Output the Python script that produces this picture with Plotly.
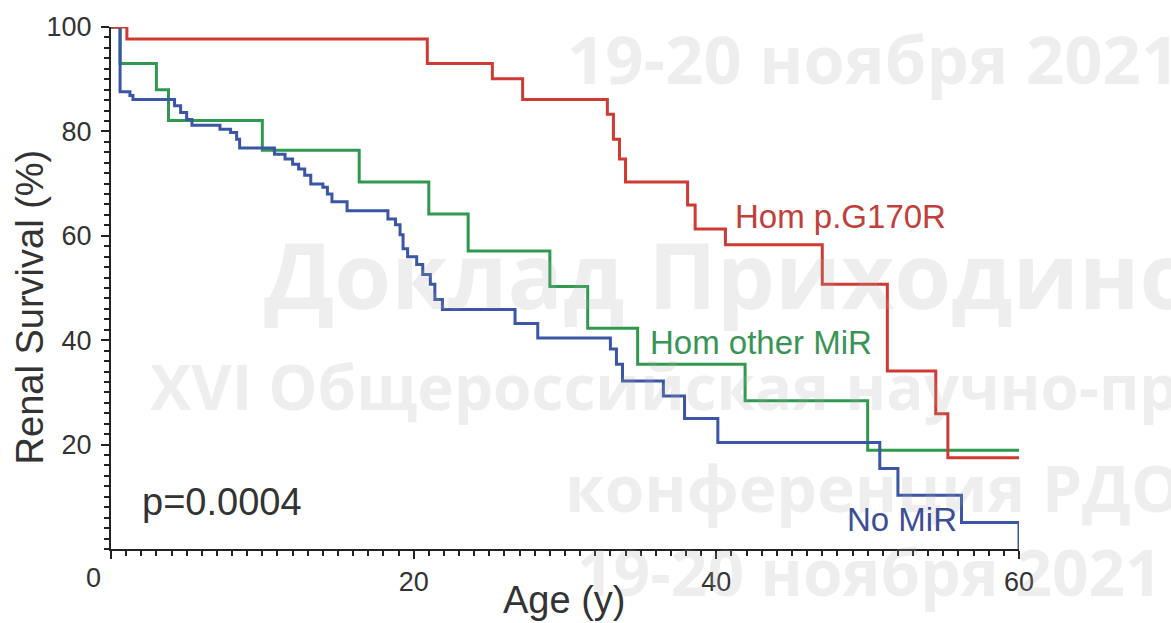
import plotly.graph_objects as go

# ---------------- data ----------------
red_name = "Hom p.G170R"
red_t = [1.05, 20.9, 25.2, 27.2, 32.8, 33.2, 33.6, 34.0, 38.1, 38.6, 40.6, 47.0, 51.3, 54.5, 55.3]
red_s = [97.7, 93.0, 90.1, 86.1, 83.3, 78.5, 74.7, 70.3, 65.9, 61.3, 58.3, 50.7, 34.1, 25.9, 17.5]

green_name = "Hom other MiR"
green_t = [0.6, 3.0, 3.8, 10.0, 16.4, 21.0, 23.6, 29.0, 31.5, 34.8, 41.9, 50.0]
green_s = [93.0, 88.0, 82.1, 76.4, 70.3, 64.2, 57.1, 50.3, 42.3, 35.4, 28.4, 18.9]

blue_name = "No MiR"
blue_t = [0.6, 1.25, 1.45, 4.2, 4.6, 5.0, 5.35, 7.2, 7.9, 8.3, 8.5, 10.8, 11.5, 12.0,
          12.4, 12.8, 13.2, 14.0, 14.3, 14.6, 15.6, 18.3, 18.8, 19.1, 19.3, 19.6, 20.2,
          20.6, 21.1, 21.4, 21.9, 26.7, 28.2, 33.0, 33.4, 33.8, 36.5, 37.9, 40.1, 50.8,
          52.0, 56.2, 60.0]
blue_s = [87.6, 86.9, 86.1, 84.9, 83.6, 82.3, 81.2, 80.4, 79.8, 78.5, 76.8, 75.6, 74.7, 73.7,
          72.8, 71.6, 69.9, 69.3, 68.0, 66.5, 64.8, 63.2, 62.1, 60.2, 57.5, 56.0, 54.5,
          52.6, 50.7, 47.8, 45.9, 43.2, 40.4, 38.3, 35.4, 32.2, 29.3, 25.0, 20.4, 15.4,
          10.3, 5.1, 0.0]

x_ticks = [0, 20, 40, 60]
x_ticktext = ["", "20", "40", "60"]
origin_label = "0"
y_ticks = [20, 40, 60, 80, 100]
start_age, end_age, start_surv = 0, 60, 100
p_text = "p=0.0004"
x_title = "Age (y)"
y_title = "Renal Survival (%)"

watermark_lines = ["19-20 ноября 2021", "Доклад Приходиной",
                   "XVI Общероссийская научно-практическая",
                   "конференция РДО", "19-20 ноября 2021"]

RED, GREEN, BLUE = "#cf3a33", "#2f9a4e", "#3b56a4"
FONT = "Liberation Sans, Arial, sans-serif"

W, H = 1171, 623
L, R, T, B = 111, 152, 24, 74


def curve(ts, ss):
    xs = [start_age] + list(ts)
    ys = [start_surv] + list(ss)
    if xs[-1] < end_age:
        xs.append(end_age)
        ys.append(ys[-1])
    return xs, ys


fig = go.Figure()
for name, ts, ss, col in [(green_name, green_t, green_s, GREEN),
                          (blue_name, blue_t, blue_s, BLUE),
                          (red_name, red_t, red_s, RED)]:
    xs, ys = curve(ts, ss)
    fig.add_trace(go.Scatter(x=xs, y=ys, mode="lines", name=name,
                             line=dict(color=col, width=3, shape="hv"),
                             cliponaxis=False, showlegend=False))


# pixel -> paper helpers for text placement
def px_(px):
    return (px - L) / (W - L - R)


def py_(py):
    return (H - B - py) / (H - T - B)


ann = []
wm_pos = [(565, 55, 67), (262, 272, 92), (148, 385, 62), (563, 487, 64), (575, 572, 64)]
for txt, (x, y, sz) in zip(watermark_lines, wm_pos):
    ann.append(dict(x=px_(x), y=py_(y), text="<b>" + txt + "</b>",
                    xanchor="left", yanchor="middle",
                    font=dict(family="Open Sans, DejaVu Sans, sans-serif", size=sz,
                              color="rgba(170,170,170,0.2)")))

ann += [
    dict(x=px_(733), y=py_(215), text=red_name, xanchor="left",
         font=dict(color="#c0403b", size=33, family=FONT)),
    dict(x=px_(648), y=py_(341), text=green_name, xanchor="left",
         font=dict(color="#3a9455", size=33, family=FONT)),
    dict(x=px_(845), y=py_(519), text=blue_name, xanchor="left",
         font=dict(color="#3c4f94", size=33, family=FONT)),
    dict(x=px_(140), y=py_(502), text=p_text, xanchor="left",
         font=dict(color="#333333", size=38, family=FONT)),
    dict(x=px_(564), y=py_(600), text=x_title, xanchor="center",
         font=dict(color="#333333", size=38, family=FONT)),
    dict(x=px_(30), y=py_(306), text=y_title, xanchor="center", textangle=-90,
         font=dict(color="#333333", size=38, family=FONT)),
    dict(x=px_(93), y=py_(578), text=origin_label, xanchor="center",
         font=dict(color="#333333", size=27, family=FONT)),
]
for a in ann:
    a.update(xref="paper", yref="paper", showarrow=False, yanchor="middle")

fig.update_layout(
    width=W, height=H,
    margin=dict(l=L, r=R, t=T, b=B),
    paper_bgcolor="white", plot_bgcolor="white",
    annotations=ann,
    font=dict(family=FONT, color="#333333"),
)
fig.update_xaxes(range=[0, 60], tickmode="array", tickvals=x_ticks, ticktext=x_ticktext,
                 showgrid=False, zeroline=False, showline=True, linecolor="#222222",
                 linewidth=2, ticks="outside", ticklen=8, tickwidth=2, tickcolor="#222222",
                 tickfont=dict(size=27, color="#333333", family=FONT),
                 ticklabelstandoff=0,
                 minor=dict(tickmode="linear", tick0=0, dtick=1, ticks="outside",
                            ticklen=5, tickwidth=1.5, tickcolor="#222222"))
fig.update_yaxes(range=[0, 100], tickmode="array", tickvals=y_ticks,
                 showgrid=False, zeroline=False, showline=True, linecolor="#222222",
                 linewidth=2, ticks="outside", ticklen=8, tickwidth=2, tickcolor="#222222",
                 tickfont=dict(size=27, color="#333333", family=FONT),
                 ticklabelstandoff=4,
                 minor=dict(tickmode="linear", tick0=0, dtick=2, ticks="outside",
                            ticklen=5, tickwidth=1.5, tickcolor="#222222"))

fig.write_html("out.html")
